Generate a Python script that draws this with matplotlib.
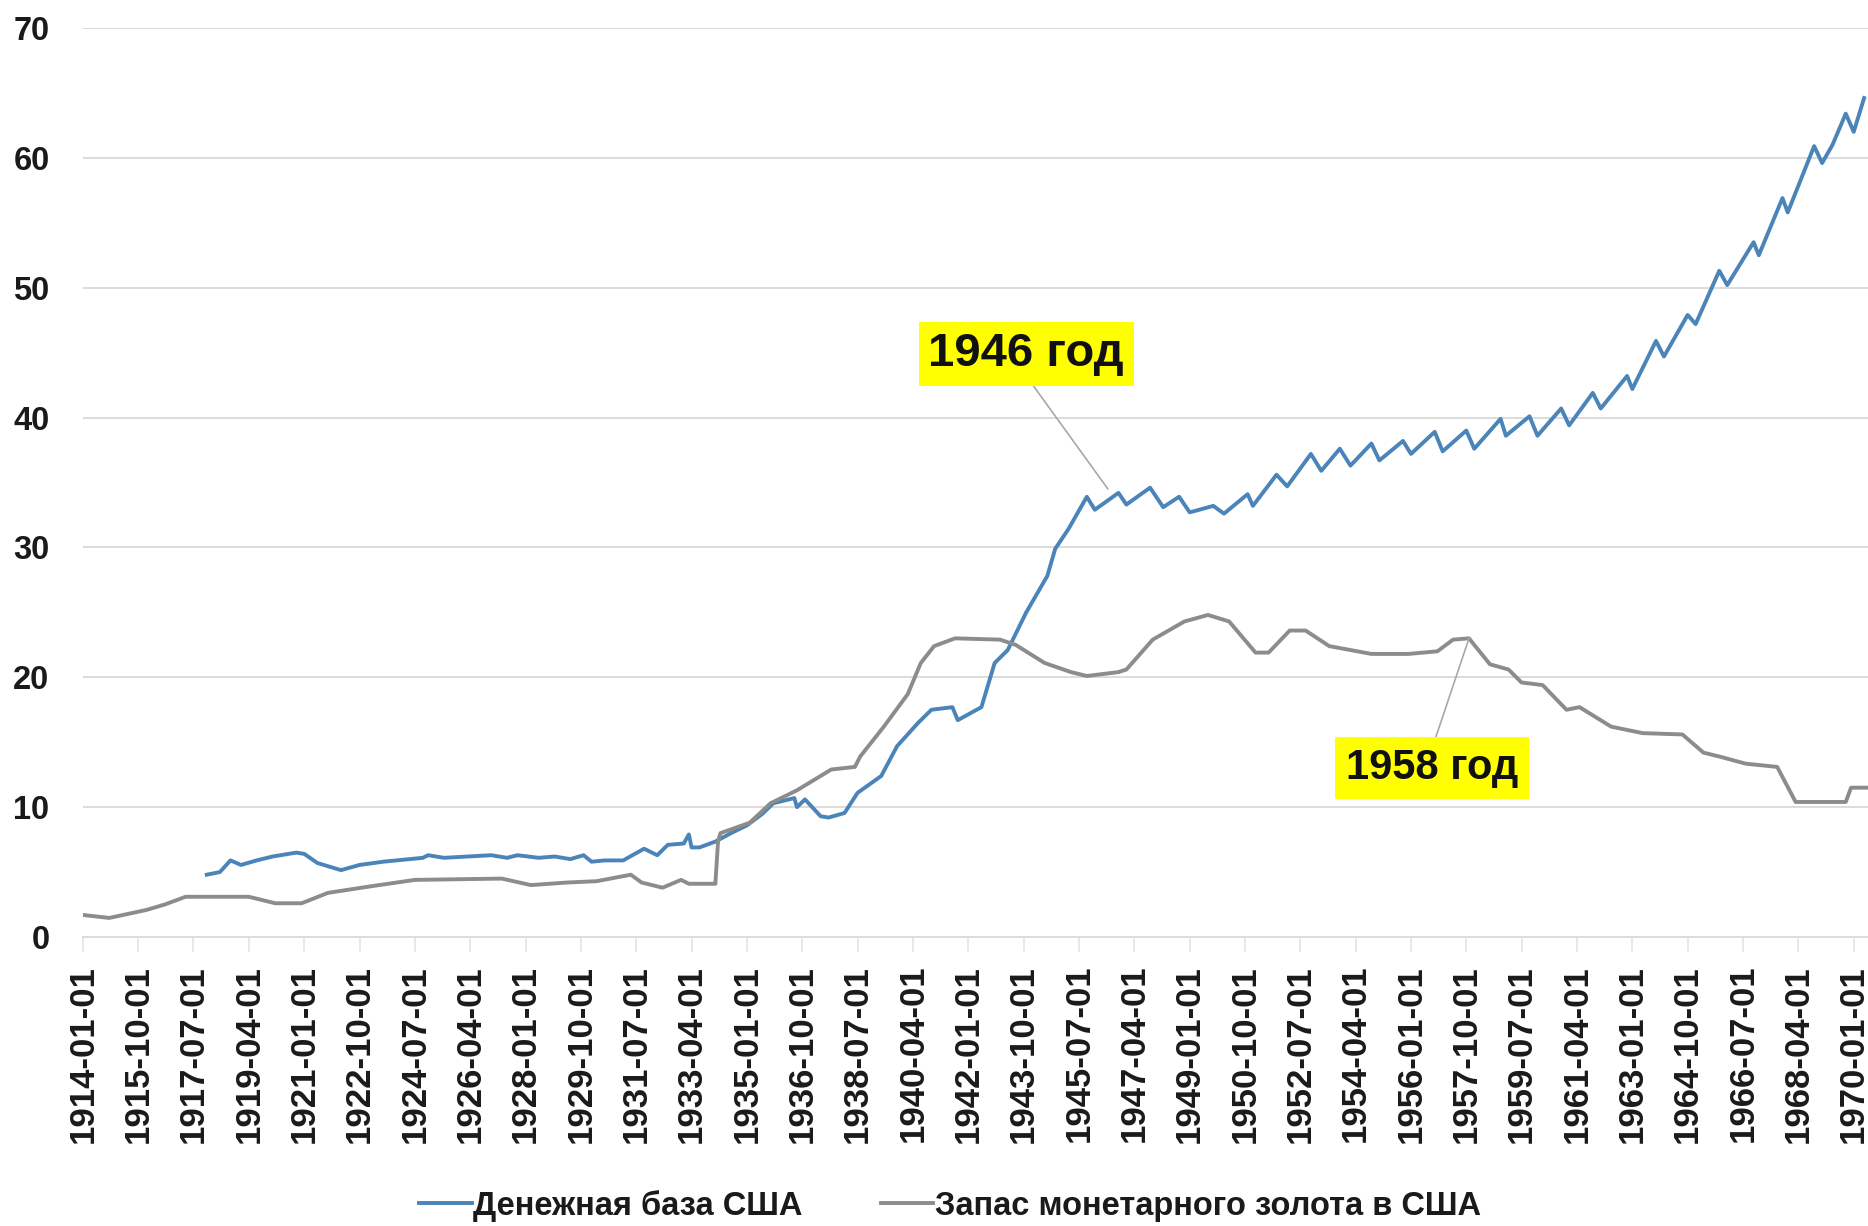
import numpy as np
import pandas as pd
import matplotlib
matplotlib.use("Agg")
import matplotlib.pyplot as plt

# --- data (billions of USD) ---
base_dates = [
    "1917-12", "1918-05", "1918-09", "1919-01", "1919-07", "1920-01", "1920-10", "1921-01",
    "1921-06", "1922-03", "1922-10", "1923-07", "1924-10", "1924-12", "1925-06", "1926-03",
    "1926-12", "1927-06", "1927-10", "1928-06", "1928-12", "1929-06", "1929-11", "1930-02",
    "1930-07", "1931-02", "1931-10", "1932-03", "1932-07", "1933-01", "1933-03", "1933-04",
    "1933-07", "1934-01", "1934-07", "1935-01", "1935-07", "1935-11", "1936-07", "1936-08",
    "1936-11", "1937-05", "1937-08", "1938-02", "1938-07", "1939-04", "1939-10", "1940-06",
    "1940-11", "1941-07", "1941-09", "1942-06", "1942-11", "1943-04", "1943-11", "1944-07",
    "1944-10", "1945-03", "1945-10", "1946-01", "1946-10", "1947-01", "1947-10", "1948-03",
    "1948-09", "1949-01", "1949-10", "1950-02", "1950-11", "1951-01", "1951-10", "1952-02",
    "1952-11", "1953-03", "1953-10", "1954-02", "1954-10", "1955-01", "1955-10", "1956-01",
    "1956-10", "1957-01", "1957-10", "1958-01", "1958-11", "1959-01", "1959-10", "1960-01",
    "1960-10", "1961-01", "1961-10", "1962-01", "1962-11", "1963-01", "1963-10", "1964-01",
    "1964-10", "1965-01", "1965-10", "1966-01", "1966-11", "1967-01", "1967-10", "1967-12",
    "1968-10", "1969-01", "1969-05", "1969-10", "1970-01", "1970-05",
]
base_vals = [
    4.8, 5.0, 5.9, 5.55, 5.9, 6.2, 6.5, 6.4,
    5.7, 5.15, 5.55, 5.8, 6.1, 6.3, 6.1, 6.2,
    6.3, 6.1, 6.3, 6.1, 6.2, 6.0, 6.3, 5.8,
    5.9, 5.9, 6.8, 6.3, 7.1, 7.2, 7.9, 6.9,
    6.9, 7.35, 8.0, 8.6, 9.5, 10.3, 10.7, 10.0,
    10.6, 9.3, 9.2, 9.55, 11.1, 12.4, 14.7, 16.5,
    17.5, 17.7, 16.7, 17.7, 21.1, 22.1, 25.0, 27.8,
    29.9, 31.4, 33.9, 32.9, 34.2, 33.3, 34.6, 33.1,
    33.9, 32.7, 33.2, 32.6, 34.1, 33.2, 35.6, 34.7,
    37.2, 35.9, 37.6, 36.3, 38.0, 36.7, 38.2, 37.2,
    38.9, 37.4, 39.0, 37.6, 39.9, 38.6, 40.1, 38.6,
    40.7, 39.4, 41.9, 40.7, 43.2, 42.2, 45.9, 44.7,
    47.9, 47.2, 51.3, 50.2, 53.5, 52.5, 56.9, 55.8,
    60.9, 59.6, 61.0, 63.4, 62.0, 64.6,
]

gold_dates = [
    "1914-01", "1914-11", "1916-01", "1916-08", "1917-04", "1919-04", "1920-02", "1920-12",
    "1921-10", "1923-02", "1924-07", "1927-04", "1928-03", "1929-05", "1930-04", "1931-05",
    "1931-09", "1932-05", "1932-12", "1933-03", "1934-01", "1934-02", "1934-03", "1935-02",
    "1935-10", "1936-08", "1937-09", "1938-06", "1938-08", "1939-05", "1940-02", "1940-07",
    "1940-12", "1941-08", "1943-01", "1943-07", "1944-06", "1945-04", "1945-10", "1946-10",
    "1947-01", "1947-11", "1948-11", "1949-08", "1950-04", "1951-02", "1951-07", "1952-03",
    "1952-09", "1953-06", "1954-10", "1955-12", "1956-11", "1957-05", "1957-11", "1958-07",
    "1959-02", "1959-07", "1960-03", "1960-12", "1961-05", "1962-05", "1963-05", "1964-08",
    "1965-04", "1965-10", "1966-08", "1967-08", "1968-03", "1969-10", "1969-12", "1970-06",
]
gold_vals = [
    1.7, 1.47, 2.08, 2.5, 3.1, 3.1, 2.6, 2.6,
    3.4, 3.9, 4.4, 4.5, 4.0, 4.2, 4.3, 4.8,
    4.2, 3.8, 4.4, 4.1, 4.1, 7.35, 8.0, 8.8,
    10.3, 11.3, 12.9, 13.1, 13.9, 16.2, 18.7, 21.1,
    22.4, 23.0, 22.9, 22.5, 21.1, 20.4, 20.1, 20.4,
    20.6, 22.9, 24.3, 24.8, 24.3, 21.9, 21.9, 23.6,
    23.6, 22.4, 21.8, 21.8, 22.0, 22.9, 23.0, 21.0,
    20.6, 19.6, 19.4, 17.5, 17.7, 16.2, 15.7, 15.6,
    14.2, 13.9, 13.35, 13.1, 10.4, 10.4, 11.5, 11.5,
]

tick_labels = [
    "1914-01-01", "1915-10-01", "1917-07-01", "1919-04-01", "1921-01-01", "1922-10-01",
    "1924-07-01", "1926-04-01", "1928-01-01", "1929-10-01", "1931-07-01", "1933-04-01",
    "1935-01-01", "1936-10-01", "1938-07-01", "1940-04-01", "1942-01-01", "1943-10-01",
    "1945-07-01", "1947-04-01", "1949-01-01", "1950-10-01", "1952-07-01", "1954-04-01",
    "1956-01-01", "1957-10-01", "1959-07-01", "1961-04-01", "1963-01-01", "1964-10-01",
    "1966-07-01", "1968-04-01", "1970-01-01",
]

names = ["Денежная база США", "Запас монетарного золота в США"]
notes = ["1946 год", "1958 год"]

fonts = ["Liberation Sans", "DejaVu Sans"]

fig = plt.figure(figsize=(18.68, 12.26), dpi=100)
ax = fig.add_axes([0.0444, 0.2357, 0.9556, 0.7415])

bx = pd.to_datetime(base_dates)
gx = pd.to_datetime(gold_dates)
ax.plot(bx, base_vals, color="#4a84b8", lw=2.8, label=names[0], solid_joinstyle="round")
ax.plot(gx, gold_vals, color="#8c8c8c", lw=2.8, label=names[1], solid_joinstyle="round")

ax.set_xlim(pd.Timestamp("1914-01-01"), pd.Timestamp("1970-06-15"))
ax.set_ylim(0, 70)
ax.set_yticks(np.arange(0, 71, 10))
ax.grid(axis="y", color="#dcdcdc", lw=1.4)
ax.set_axisbelow(True)
for s in ["top", "right", "left"]:
    ax.spines[s].set_visible(False)
ax.spines["bottom"].set_color("#dcdcdc")
ax.spines["bottom"].set_linewidth(1.4)

ax.set_xticks(pd.to_datetime(tick_labels))
ax.set_xticklabels(tick_labels, rotation=90, fontfamily=fonts, fontweight="bold",
                   fontsize=25, color="#1a1a1a")
ax.tick_params(axis="x", length=11, color="#e4e4e4", width=1.2, pad=9)
ax.tick_params(axis="y", length=0, pad=24)
for t in ax.get_yticklabels():
    t.set_fontfamily(fonts)
    t.set_fontweight("bold")
    t.set_fontsize(23.5)
    t.set_color("#1a1a1a")

# callouts
ax.annotate(notes[0], xy=(pd.Timestamp("1946-06-01"), 34.5),
            xytext=(pd.Timestamp("1943-11-01"), 44.9), ha="center", va="center",
            fontsize=34, fontweight="bold", fontfamily=fonts, color="#111111",
            bbox=dict(boxstyle="square,pad=0.21", fc="#ffff00", ec="none"),
            arrowprops=dict(arrowstyle="-", color="#a8a8a8", lw=1.2,
                            relpos=(0.5, 0), shrinkA=0, shrinkB=0))
ax.annotate(notes[1], xy=(pd.Timestamp("1957-11-01"), 23.0),
            xytext=(pd.Timestamp("1956-09-01"), 13.0), ha="center", va="center",
            fontsize=30, fontweight="bold", fontfamily=fonts, color="#111111",
            bbox=dict(boxstyle="square,pad=0.27", fc="#ffff00", ec="none"),
            arrowprops=dict(arrowstyle="-", color="#a8a8a8", lw=1.2,
                            relpos=(0.5, 1), shrinkA=0, shrinkB=0))

leg = fig.legend(loc="center", bbox_to_anchor=(0.5086, 0.0165), ncol=2,
                 frameon=False, handlelength=1.6, handletextpad=0.05,
                 columnspacing=2.4, borderpad=0,
                 prop=dict(family=fonts, weight="bold", size=23.5))
for t in leg.get_texts():
    t.set_color("#1a1a1a")

fig.savefig("out.png", dpi=100)
